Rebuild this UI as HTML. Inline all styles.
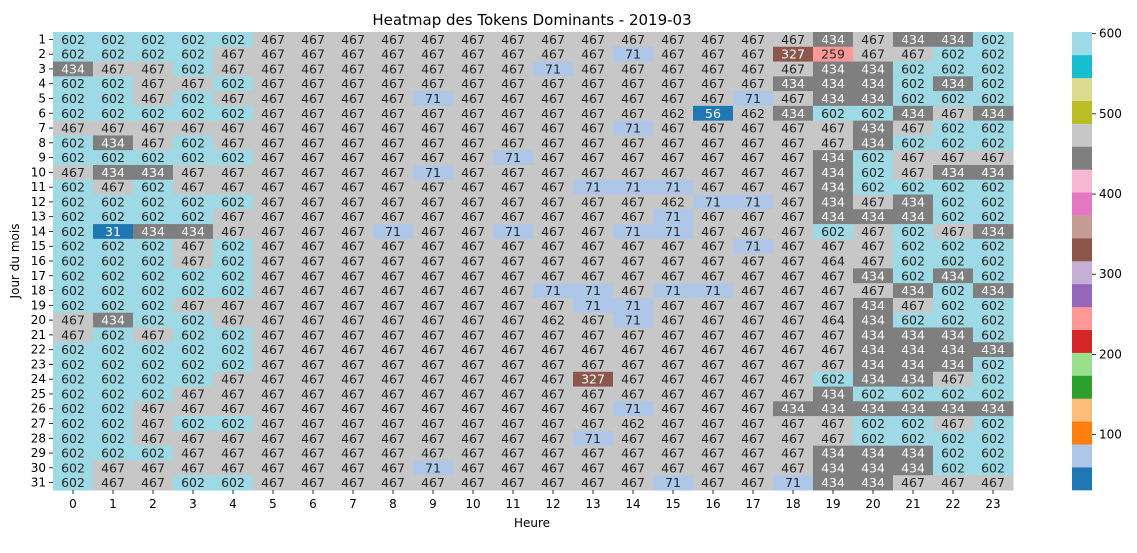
<!DOCTYPE html>
<html><head><meta charset="utf-8"><style>
html,body{margin:0;padding:0;background:#fff;width:1137px;height:553px;overflow:hidden}
svg{display:block;font-family:"DejaVu Sans","Liberation Sans",sans-serif}
</style></head><body>
<svg id="chart" width="1137" height="553">
<text x="532" y="25" text-anchor="middle" font-size="15" fill="#000">Heatmap des Tokens Dominants - 2019-03</text>
<text x="532" y="527" text-anchor="middle" font-size="12" fill="#000">Heure</text>
<text x="19" y="261" text-anchor="middle" font-size="12" fill="#000" transform="rotate(-90 19 261)">Jour du mois</text>
<g id="cells"></g>
<g id="xt"></g>
<g id="yt"></g>
<g id="cb"></g>
</svg>
<script>
const hours = [0,1,2,3,4,5,6,7,8,9,10,11,12,13,14,15,16,17,18,19,20,21,22,23];
const days = [1,2,3,4,5,6,7,8,9,10,11,12,13,14,15,16,17,18,19,20,21,22,23,24,25,26,27,28,29,30,31];
const leftValues = [
[602,602,602,602,602,467,467,467,467,467,467,467],
[602,602,602,602,467,467,467,467,467,467,467,467],
[434,467,467,602,467,467,467,467,467,467,467,467],
[602,602,467,467,602,467,467,467,467,467,467,467],
[602,602,467,602,467,467,467,467,467,71,467,467],
[602,602,602,602,602,467,467,467,467,467,467,467],
[467,467,467,467,467,467,467,467,467,467,467,467],
[602,434,467,602,467,467,467,467,467,467,467,467],
[602,602,602,602,602,467,467,467,467,467,467,71],
[467,434,434,467,467,467,467,467,467,71,467,467],
[602,467,602,467,467,467,467,467,467,467,467,467],
[602,602,602,602,602,467,467,467,467,467,467,467],
[602,602,602,602,467,467,467,467,467,467,467,467],
[602,31,434,434,467,467,467,467,71,467,467,71],
[602,602,602,467,602,467,467,467,467,467,467,467],
[602,602,602,467,602,467,467,467,467,467,467,467],
[602,602,602,602,602,467,467,467,467,467,467,467],
[602,602,602,602,602,467,467,467,467,467,467,467],
[602,602,602,467,467,467,467,467,467,467,467,467],
[467,434,602,602,467,467,467,467,467,467,467,467],
[467,602,467,602,602,467,467,467,467,467,467,467],
[602,602,602,602,602,467,467,467,467,467,467,467],
[602,602,602,602,602,467,467,467,467,467,467,467],
[602,602,602,602,467,467,467,467,467,467,467,467],
[602,602,602,467,467,467,467,467,467,467,467,467],
[602,602,467,467,467,467,467,467,467,467,467,467],
[602,602,467,602,602,467,467,467,467,467,467,467],
[602,602,467,467,467,467,467,467,467,467,467,467],
[602,602,602,467,467,467,467,467,467,467,467,467],
[602,467,467,467,467,467,467,467,467,71,467,467],
[602,467,467,602,602,467,467,467,467,467,467,467]];
const rightValues = [
[467,467,467,467,467,467,467,434,467,434,434,602],
[467,467,71,467,467,467,327,259,467,467,602,602],
[71,467,467,467,467,467,467,434,434,602,602,602],
[467,467,467,467,467,467,434,434,434,602,434,602],
[467,467,467,467,467,71,467,434,434,602,602,602],
[467,467,467,462,56,462,434,602,602,434,467,434],
[467,467,71,467,467,467,467,467,434,467,602,602],
[467,467,467,467,467,467,467,467,434,602,602,602],
[467,467,467,467,467,467,467,434,602,467,467,467],
[467,467,467,467,467,467,467,434,602,467,434,434],
[467,71,71,71,467,467,467,434,602,602,602,602],
[467,467,467,462,71,71,467,434,467,434,602,602],
[467,467,467,71,467,467,467,434,434,434,602,602],
[467,467,71,71,467,467,467,602,467,602,467,434],
[467,467,467,467,467,71,467,467,467,602,602,602],
[467,467,467,467,467,467,467,464,467,602,602,602],
[467,467,467,467,467,467,467,467,434,602,434,602],
[71,71,467,71,71,467,467,467,467,434,602,434],
[467,71,71,467,467,467,467,467,434,467,602,602],
[462,467,71,467,467,467,467,464,434,602,602,602],
[467,467,467,467,467,467,467,467,434,434,434,602],
[467,467,467,467,467,467,467,467,434,434,434,434],
[467,467,467,467,467,467,467,467,434,434,434,602],
[467,327,467,467,467,467,467,602,434,434,467,602],
[467,467,467,467,467,467,467,434,602,602,602,602],
[467,467,71,467,467,467,434,434,434,434,434,434],
[467,467,462,467,467,467,467,467,602,602,467,602],
[467,71,467,467,467,467,467,467,602,602,602,602],
[467,467,467,467,467,467,467,434,434,434,602,602],
[467,467,467,467,467,467,467,434,434,434,602,602],
[467,467,467,71,467,467,71,434,434,467,467,467]];
const cbTicks = [100,200,300,400,500,600];
const vmin = 31, vmax = 602;
const tab20 = ["#1f77b4","#aec7e8","#ff7f0e","#ffbb78","#2ca02c","#98df8a","#d62728","#ff9896","#9467bd","#c5b0d5","#8c564b","#c49c94","#e377c2","#f7b6d2","#7f7f7f","#c7c7c7","#bcbd22","#dbdb8d","#17becf","#9edae5"];
const NS="http://www.w3.org/2000/svg";
const X0=53, X1=1013, Y0=32, Y1=490;
const cw=(X1-X0)/hours.length, ch=(Y1-Y0)/days.length;
function xs(i){return X0+i*cw;}
function ys(i){return Y0+i*ch;}
function cidx(v){let k=Math.floor((v-vmin)/(vmax-vmin)*20);return Math.max(0,Math.min(19,k));}
function lum(hex){const c=[1,3,5].map(i=>{let v=parseInt(hex.substr(i,2),16)/255;return v<=0.03928?v/12.92:Math.pow((v+0.055)/1.055,2.4);});return 0.2126*c[0]+0.7152*c[1]+0.0722*c[2];}
function mk(tag,attrs,parent){const e=document.createElementNS(NS,tag);for(const k in attrs)e.setAttribute(k,attrs[k]);parent.appendChild(e);return e;}
const cells=document.getElementById('cells');
days.forEach((d,r)=>{
  const row=leftValues[r].concat(rightValues[r]);
  row.forEach((v,c)=>{
    const col=tab20[cidx(v)];
    const rc=mk('rect',{x:xs(c),y:ys(r),width:cw+0.5,height:ch+0.5,fill:col},cells);
    
    
    const t=mk('text',{x:xs(c)+cw/2,y:ys(r)+ch/2+4.5,'text-anchor':'middle','font-size':'12.5',fill:lum(col)<0.408?'#fff':'#262626'},cells);
    
    
    t.textContent=v;
  });
});
const xt=document.getElementById('xt');
hours.forEach((h,i)=>{
  const x=xs(i)+cw/2;
  mk('line',{x1:x,x2:x,y1:Y1,y2:Y1+4,stroke:'#000','stroke-width':0.8},xt);
  const t=mk('text',{x:x,y:Y1+18,'text-anchor':'middle','font-size':'12',fill:'#000'},xt);
  
  
  t.textContent=h;
});
const yt=document.getElementById('yt');
days.forEach((d,i)=>{
  const y=ys(i)+ch/2;
  mk('line',{x1:X0-4,x2:X0,y1:y,y2:y,stroke:'#000','stroke-width':0.8},yt);
  const t=mk('text',{x:X0-7,y:y+4,'text-anchor':'end','font-size':'12',fill:'#000'},yt);
  
  
  t.textContent=d;
});
const cb=document.getElementById('cb');
const CX=1072, CW=20;
function cy(v){return Y1-(v-vmin)/(vmax-vmin)*(Y1-Y0);}
for(let k=0;k<20;k++){
  const a=vmin+k*(vmax-vmin)/20, b=vmin+(k+1)*(vmax-vmin)/20;
  const r=mk('rect',{x:CX,y:cy(b),width:CW,height:cy(a)-cy(b)+0.3,fill:tab20[k]},cb);
  
  
}
cbTicks.forEach(v=>{
  const y=cy(v);
  mk('line',{x1:CX+CW,x2:CX+CW+4,y1:y,y2:y,stroke:'#000','stroke-width':0.8},cb);
  const t=mk('text',{x:CX+CW+7,y:y+4,'font-size':'12',fill:'#000'},cb);
  
  
  t.textContent=v;
});
</script>
</body></html>
